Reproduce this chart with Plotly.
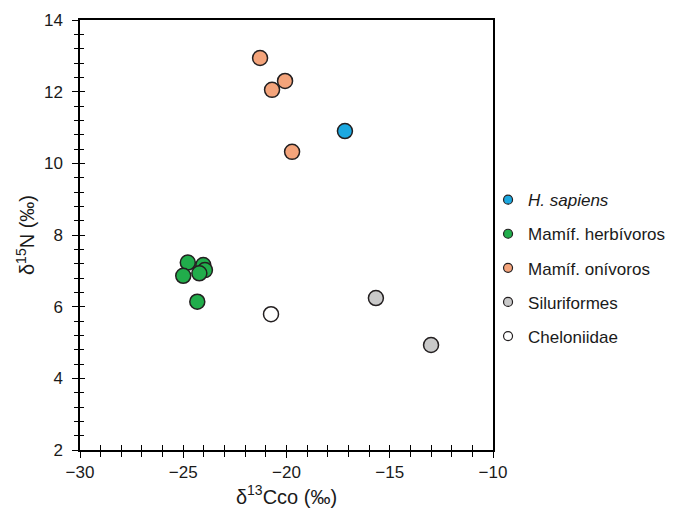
import plotly.graph_objects as go

# Data
groups = ["<i>H. sapiens</i>", "Mamíf. herbívoros", "Mamíf. onívoros", "Siluriformes", "Cheloniidae"]
colors = ["#1ba8e0", "#21ad4b", "#f4a47b", "#c9c9c9", "#ffffff"]

hs_x = [-17.17]
hs_y = [10.90]
herb_x = [-24.78, -24.03, -23.95, -25.0, -24.22, -24.32]
herb_y = [7.23, 7.16, 7.02, 6.86, 6.93, 6.14]
omni_x = [-21.28, -20.07, -20.70, -19.73]
omni_y = [12.94, 12.30, 12.05, 10.32]
silu_x = [-15.67, -13.0]
silu_y = [6.24, 4.93]
chel_x = [-20.75]
chel_y = [5.79]

x_range = [-30, -10]
y_range = [2, 14]

xs = [hs_x, herb_x, omni_x, silu_x, chel_x]
ys = [hs_y, herb_y, omni_y, silu_y, chel_y]

FONT = "Arial, Liberation Sans, sans-serif"
EDGE = "#231f20"
TXT = "#1a1a1a"

fig = go.Figure()
for name, c, x, y in zip(groups, colors, xs, ys):
    fig.add_trace(go.Scatter(x=x, y=y, mode="markers", name=name, showlegend=False,
                             marker=dict(size=15, color=c, line=dict(color=EDGE, width=1.5))))
# legend entries with smaller symbols (placed on the overlay axes)
for i, (name, c) in enumerate(zip(groups, colors)):
    fig.add_trace(go.Scatter(x=[None], y=[None], mode="markers", name=name, legendgroup=f"g{i}",
                             xaxis="x2", yaxis="y2",
                             marker=dict(size=9, color=c, line=dict(color=EDGE, width=1.2))))

tick_font = dict(family=FONT, size=17, color=TXT)

# page body adds an 8px offset; figure sized to fit the 683x518 window
fig.update_layout(
    width=675, height=510,
    margin=dict(l=72, r=190, t=12, b=68),
    plot_bgcolor="white", paper_bgcolor="white",
    font=dict(family=FONT, color=TXT),
    xaxis=dict(range=x_range, tick0=-30, dtick=5, ticks="outside", ticklen=6, tickwidth=1.3,
               tickcolor="black", mirror=True, showline=True, linecolor="black", linewidth=1.5,
               showgrid=False, zeroline=False, automargin=False, tickfont=tick_font,
               minor=dict(dtick=1, ticks="outside", ticklen=5, tickcolor="black", tickwidth=1),
               title=dict(text="δ<sup>13</sup>Cco (‰)", font=dict(family=FONT, size=20, color=TXT),
                          standoff=8)),
    yaxis=dict(range=y_range, tick0=2, dtick=2, ticks="outside", ticklen=6, tickwidth=1.3,
               tickcolor="black", mirror=True, showline=True, linecolor="black", linewidth=1.5,
               showgrid=False, zeroline=False, automargin=False, tickfont=tick_font,
               ticklabelstandoff=6,
               minor=dict(dtick=0.4, ticks="outside", ticklen=4, tickcolor="black", tickwidth=1),
               title=dict(text="δ<sup>15</sup>N (‰)", font=dict(family=FONT, size=20, color=TXT),
                          standoff=4)),
    xaxis2=dict(overlaying="x", range=x_range, side="bottom", anchor="y2", showticklabels=False,
                showgrid=False, zeroline=False, showline=False, automargin=False,
                ticks="inside", ticklen=5, tickcolor="black", tickwidth=1.3, tick0=-30, dtick=5,
                minor=dict(dtick=1, ticks="inside", ticklen=5, tickcolor="black", tickwidth=1)),
    yaxis2=dict(overlaying="y", range=y_range, side="left", anchor="x2", showticklabels=False,
                showgrid=False, zeroline=False, showline=False, automargin=False,
                ticks="inside", ticklen=5, tickcolor="black", tickwidth=1.3, tick0=2, dtick=2,
                minor=dict(dtick=0.4, ticks="inside", ticklen=4, tickcolor="black", tickwidth=1)),
    legend=dict(x=0.988, y=0.623, xanchor="left", yanchor="top", tracegroupgap=9,
                itemsizing="trace", itemwidth=30, font=dict(family=FONT, size=17, color=TXT),
                bgcolor="rgba(0,0,0,0)"),
)
fig.write_html("out.html")
